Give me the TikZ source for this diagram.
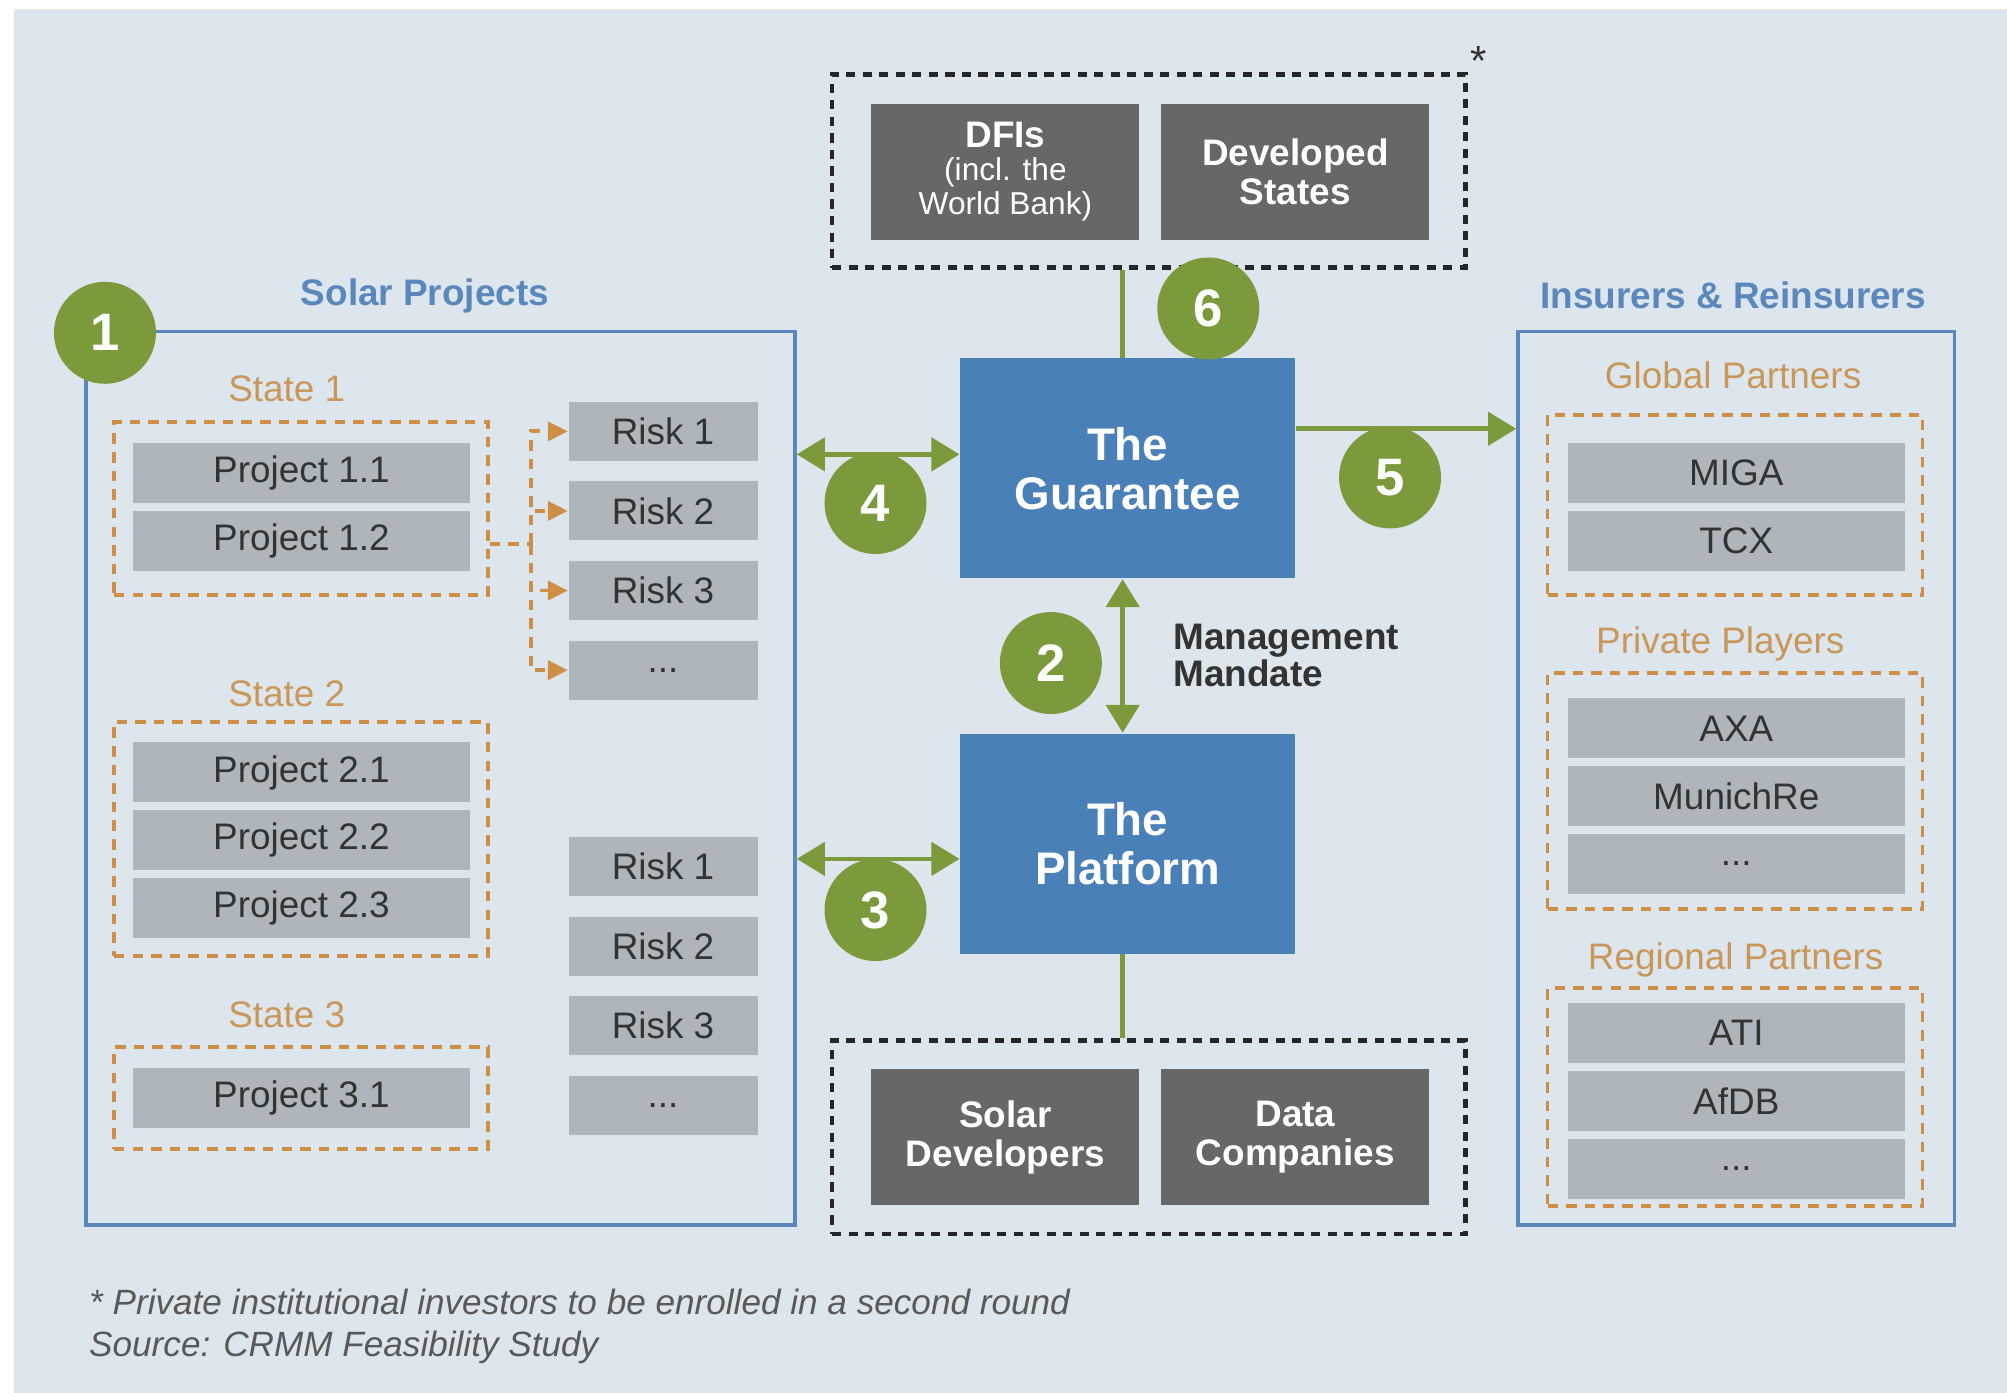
\documentclass[tikz,border=0pt]{standalone}
\usepackage{fontspec}
\setmainfont{Liberation Sans}
\usepackage{tikz}
\usetikzlibrary{arrows.meta,positioning,fit,calc}
\definecolor{bgblue}{HTML}{DDE6EC}
\definecolor{boxgray}{HTML}{AEB6BC}
\definecolor{darkbox}{HTML}{676767}
\definecolor{coreblue}{HTML}{4A80B8}
\definecolor{frameblue}{HTML}{5A87BC}
\definecolor{numgreen}{HTML}{7A9A3B}
\definecolor{tan}{HTML}{C9975A}
\definecolor{dashorange}{HTML}{CF8E45}
\definecolor{txtdark}{HTML}{333333}
\newcommand{\dfinote}{\fontsize{9}{8}\selectfont\mdseries}

\begin{document}
\begin{tikzpicture}[x=0.128mm,y=-0.128mm,
  node distance=0.64mm,
  proj/.style={rectangle,fill=boxgray,minimum width=33.7mm,minimum height=6mm,
               inner sep=0pt,text=txtdark,font=\fontsize{10.5}{12}\selectfont},
  risk/.style={proj,minimum width=18.9mm,minimum height=5.9mm},
  darkbox/.style={rectangle,fill=darkbox,text=white,minimum width=26.8mm,
               minimum height=13.6mm,inner sep=0pt,align=center,
               font=\fontsize{10.5}{11}\selectfont\bfseries},
  core/.style={rectangle,fill=coreblue,text=white,minimum width=33.5mm,
               minimum height=22mm,inner sep=0pt,align=center,
               font=\fontsize{13}{14}\selectfont\bfseries},
  num/.style={circle,fill=numgreen,text=white,minimum size=10.2mm,inner sep=0pt,
              font=\fontsize{15}{15}\selectfont\bfseries},
  frame/.style={rectangle,draw=frameblue,line width=1.1pt,inner sep=0pt},
  grp/.style={rectangle,draw=dashorange,line width=1.1pt,inner sep=0pt,
              dash pattern=on 3pt off 2.3pt},
  party/.style={rectangle,draw=black!85,line width=1.3pt,inner sep=0pt,
                dash pattern=on 2.6pt off 2.1pt},
  title/.style={text=frameblue,font=\fontsize{10.5}{12}\selectfont\bfseries},
  state/.style={text=tan,font=\fontsize{10.5}{12}\selectfont},
  garr/.style={draw=numgreen,line width=1.3pt,
               {Triangle[length=2.8mm,width=3.3mm]}-{Triangle[length=2.8mm,width=3.3mm]}},
  gone/.style={draw=numgreen,line width=1.3pt,-{Triangle[length=2.8mm,width=3.3mm]}},
  gline/.style={draw=numgreen,line width=1.3pt},
  odash/.style={draw=dashorange,line width=1.1pt,dash pattern=on 3pt off 2.3pt},
  oarr/.style={odash,-{Triangle[length=2mm,width=1.9mm]}}
]
  \useasboundingbox (0,0) rectangle (1568,1088);
  \fill[bgblue] (11,7) rectangle (1568,1088);

  % top and bottom parties
  \node[party,fit={(650,58) (1145,209)}] (top) {};
  \node[darkbox] (dfi) at (785.5,134) {DFIs\\[-1.5pt]
    {\dfinote (incl. the}\\[-1.5pt]{\dfinote World Bank)}};
  \node[darkbox] (dev) at (1012,134) {Developed\\States};
  \node[text=txtdark,font=\fontsize{12}{12}\selectfont] (star) at (1155,48) {*};
  \node[party,fit={(650,813) (1145,964)}] (bot) {};
  \node[darkbox] (sdev) at (785.5,888.5) {Solar\\Developers};
  \node[darkbox] (data) at (1012,888.5) {Data\\Companies};

  % core
  \node[core] (guar) at (881,366) {The\\Guarantee};
  \node[core] (plat) at (881,659) {The\\Platform};
  \node[anchor=west,align=left,text=txtdark,
        font=\fontsize{10.5}{10.6}\selectfont\bfseries] (mm) at (907,512) {Management\\Mandate};

  % solar projects
  \node[title] (tsol) at (332,231) {Solar Projects};
  \node[frame,fit={(67,259) (621,957)}] (solar) {};
  \node[state] (s1) at (224,304) {State 1};
  \node[grp,fit={(89,330) (381,465)}] (st1) {};
  \node[proj] (p11) at (235.5,369.5) {Project 1.1};
  \node[proj,below=of p11] (p12) {Project 1.2};
  \node[state] (s2) at (224,542) {State 2};
  \node[grp,fit={(89,564) (381,747)}] (st2) {};
  \node[proj] (p21) at (235.5,603.5) {Project 2.1};
  \node[proj,below=of p21] (p22) {Project 2.2};
  \node[proj,below=of p22] (p23) {Project 2.3};
  \node[state] (s3) at (224,793) {State 3};
  \node[grp,fit={(89,818) (381,898)}] (st3) {};
  \node[proj] (p31) at (235.5,858) {Project 3.1};

  \node[risk] (r1) at (518,337) {Risk 1};
  \node[risk,below=1.92mm of r1] (r2) {Risk 2};
  \node[risk,below=1.92mm of r2] (r3) {Risk 3};
  \node[risk,below=1.92mm of r3] (r4) {...};
  \node[risk] (q1) at (518,677) {Risk 1};
  \node[risk,below=1.92mm of q1] (q2) {Risk 2};
  \node[risk,below=1.92mm of q2] (q3) {Risk 3};
  \node[risk,below=1.92mm of q3] (q4) {...};

  \coordinate (fs) at ($(st1.east)+(0,27.5)$);
  \coordinate (fork) at ($(fs)+(32,0)$);
  \draw[odash] (fs) -- (fork);
  \draw[oarr] (fork) |- (r1.west);
  \draw[oarr] (fork) |- (r2.west);
  \draw[oarr] (fork) |- (r3.west);
  \draw[oarr] (fork) |- (r4.west);

  % insurers
  \node[title] (tins) at (1354,231) {Insurers \& Reinsurers};
  \node[frame,fit={(1186,259) (1527,957)}] (ins) {};
  \node[state] (g1) at (1354,293) {Global Partners};
  \node[grp,fit={(1209,324) (1502,465)}] (glob) {};
  \node[proj] (miga) at (1356.5,369.5) {MIGA};
  \node[proj,below=of miga] (tcx) {TCX};
  \node[state] (g2) at (1344,503) {Private Players};
  \node[grp,fit={(1209,526) (1502,710)}] (priv) {};
  \node[proj] (axa) at (1356.5,569) {AXA};
  \node[proj,below=of axa] (munich) {MunichRe};
  \node[proj,below=of munich] (pdots) {...};
  \node[state] (g3) at (1356,750) {Regional Partners};
  \node[grp,fit={(1209,772) (1502,942)}] (reg) {};
  \node[proj] (ati) at (1356.5,807) {ATI};
  \node[proj,below=of ati] (afdb) {AfDB};
  \node[proj,below=of afdb] (rdots) {...};

  % flows
  \coordinate (a4) at ([yshift=1.41mm]guar.west);
  \coordinate (a3) at ([yshift=-1.54mm]plat.west);
  \coordinate (a5) at ([yshift=3.97mm]guar.east);
  \draw[garr] (a4 -| solar.east) -- (a4);
  \draw[garr] (a3 -| solar.east) -- (a3);
  \draw[garr] ([xshift=-0.5mm]guar.south) -- ([xshift=-0.5mm]plat.north);
  \draw[gone] (a5) -- (a5 -| ins.west);
  \draw[gline] ([xshift=-0.5mm]guar.north) -- ([xshift=-0.5mm]guar.north |- top.south);
  \draw[gline] ([xshift=-0.5mm]plat.south) -- ([xshift=-0.5mm]plat.south |- bot.north);

  \node[num] (n1) at (82,260) {1};
  \node[num] (n2) at (821,518) {2};
  \node[num] (n3) at (684,711) {3};
  \node[num] (n4) at (684,393) {4};
  \node[num] (n5) at (1086,373) {5};
  \node[num] (n6) at (944,241) {6};

  % notes
  \node[anchor=west,text=black!65,font=\fontsize{10}{12}\selectfont\itshape] (fn1)
    at (60,1017) {* Private institutional investors to be enrolled in a second round};
  \node[anchor=west,text=black!65,font=\fontsize{10}{12}\selectfont\itshape] (fn2)
    at (60,1053) {Source: CRMM Feasibility Study};
\end{tikzpicture}
\end{document}
